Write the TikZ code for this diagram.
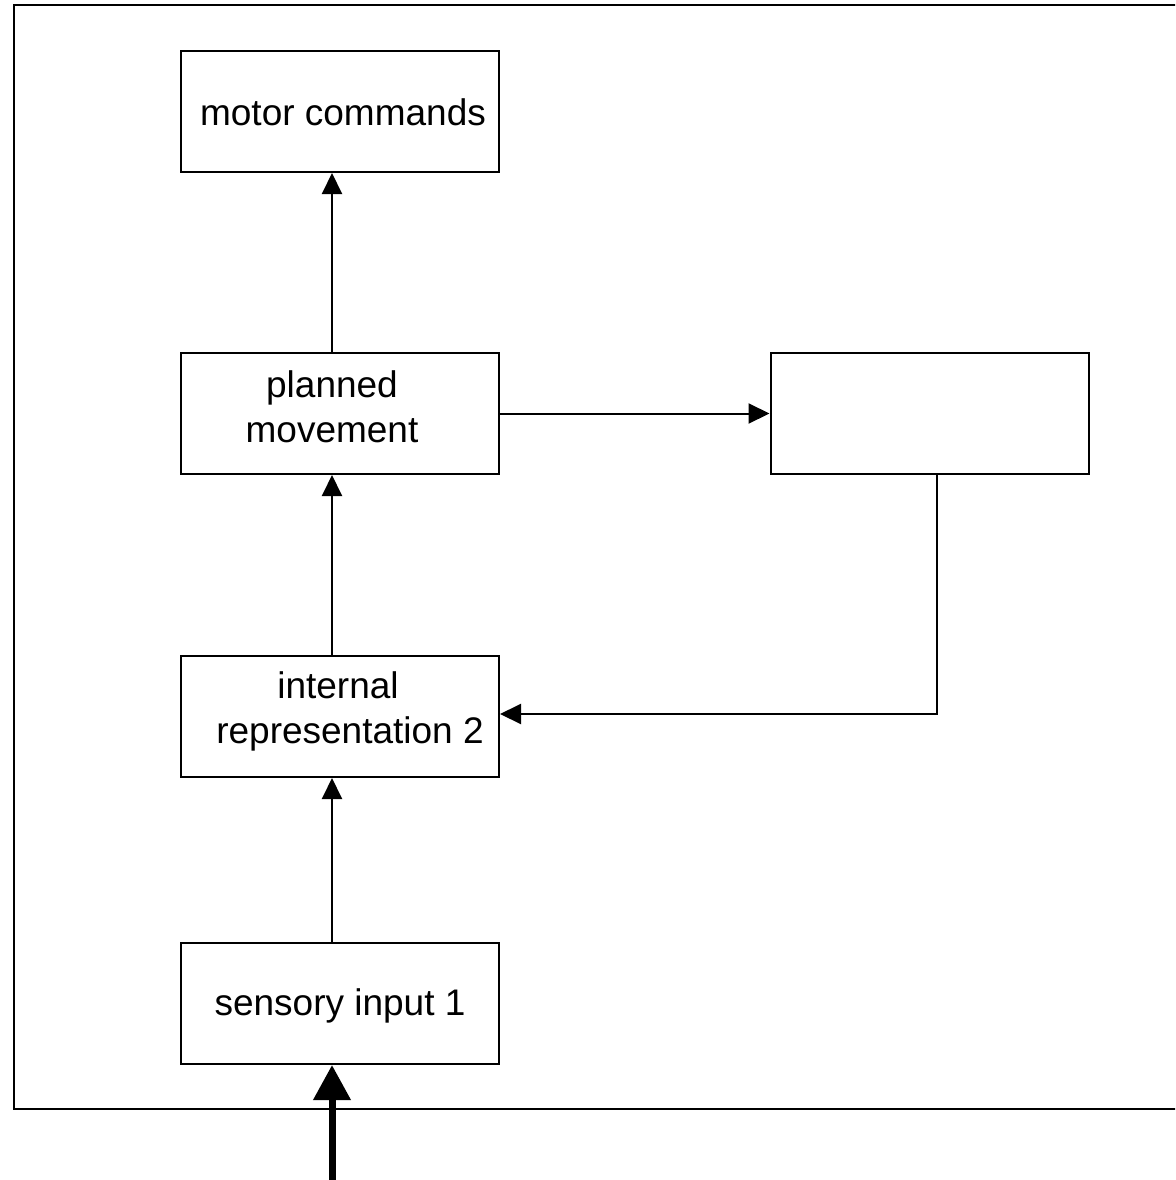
\documentclass[tikz,border=0pt]{standalone}
\usepackage{fontspec}
\setmainfont{Liberation Sans}
\usetikzlibrary{arrows.meta,calc}

\tikzset{
  box/.style={draw=black, line width=2pt, rectangle, minimum width=318pt, minimum height=121pt, inner sep=0pt},
  lbl/.style={font=\fontsize{37}{45}\selectfont, inner sep=0pt, anchor=base},
  flow/.style={line width=2pt, -{Triangle[width=20pt,length=21pt]}},
  bigflow/.style={line width=7pt, -{Triangle[width=36pt,length=35pt]}},
}

\begin{document}
\begin{tikzpicture}[x=1pt,y=-1pt]
  \useasboundingbox (0,0) rectangle (1175,1180);
  \clip (0,0) rectangle (1175,1180);

  % outer system frame (right side runs off the page)
  \draw[line width=2pt] (14,5) rectangle (1200,1109);

  % boxes
  \node[box] (motor)    at (340,111.5) {};
  \node[box] (planned)  at (340,413.5) {};
  \node[box] (copy)     at (929.5,413.5) {};
  \node[box] (internal) at (340,716.5) {};
  \node[box] (sensory)  at (340,1003.5) {};

  % box texts
  \node[lbl] (tmotor) at (343,125) {motor commands};
  \node[lbl] (tplan1) at (332,397) {planned};
  \node[lbl] (tplan2) at (332,442) {movement};
  \node[lbl] (tint1)  at (338,698) {internal};
  \node[lbl] (tint2)  at (350,743) {representation 2};
  \node[lbl] (tsens)  at (340,1015) {sensory input 1};

  % guide coordinates for the vertical stream and the feedback loop
  \coordinate (ax) at (332,0);
  \coordinate (fb) at (937,714);
  \coordinate (inlet) at (332,1185);

  % connectors
  \draw[flow] (sensory.north -| ax) -- (internal.south -| ax);
  \draw[flow] (internal.north -| ax) -- (planned.south -| ax);
  \draw[flow] (planned.north -| ax) -- (motor.south -| ax);
  \draw[flow] (planned.east) -- (copy.west);
  \draw[flow] (copy.south -| fb) -- (fb) -- (internal.east |- fb);
  \draw[bigflow] (inlet) -- (sensory.south -| ax);
\end{tikzpicture}
\end{document}
